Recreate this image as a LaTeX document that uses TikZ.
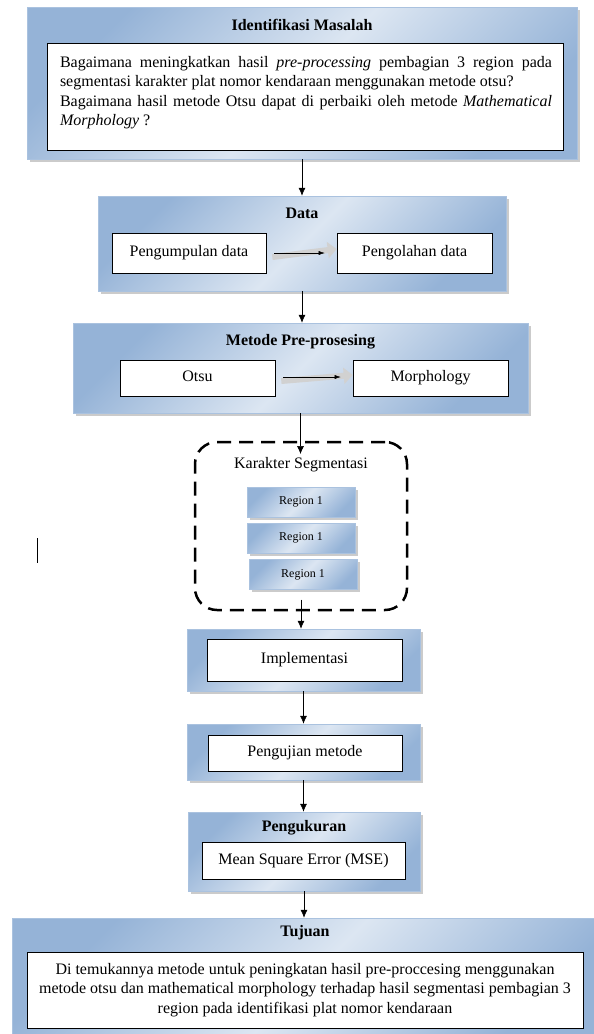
\documentclass[tikz,border=0pt]{standalone}
\usepackage{fontspec}
\setmainfont{Liberation Serif}
\usetikzlibrary{shapes,arrows,arrows.meta,shadows}

\definecolor{boxdark}{HTML}{95B3D7}
\definecolor{boxlight}{HTML}{DCE6F2}

\begin{document}
\begin{tikzpicture}[x=1pt, y=-1pt, semithick,
    font=\fontsize{16}{19.5}\selectfont]
  \tikzstyle{panel} = [rectangle, draw=boxdark!80, thin,
    left color=boxdark, right color=boxdark, middle color=boxlight, shading angle=45,
    drop shadow={shadow xshift=2.5pt, shadow yshift=-2.5pt, opacity=0.45, fill=black!45},
    inner sep=0pt]
  \tikzstyle{block} = [rectangle, draw, fill=white, inner sep=0pt, text centered]
  \tikzstyle{oneline} = [block, text height=11pt, text depth=4pt]
  \tikzstyle{title} = [font=\fontsize{16}{19.5}\selectfont\bfseries]
  \tikzstyle{regionbox} = [panel, minimum width=108pt, minimum height=30pt,
    text height=8pt, text depth=3pt, font=\fontsize{12}{14}\selectfont]
  \tikzstyle{line} = [draw, -{Latex[length=8pt, width=7pt]}]
  \tikzstyle{hollow} = [draw=black!18, line width=6pt, -{Triangle[length=9pt, width=16pt]}]

  \useasboundingbox (0,0) rectangle (594,1034);

  % Place nodes
  \node [panel, minimum width=550pt, minimum height=152pt] (ident) at (302,83) {};
  \node [title] (identtitle) at (302,25) {Identifikasi Masalah};
  \node [block, minimum width=516pt, minimum height=107pt] (identtext) at (305,96.5) {};
  \node [text width=492pt, align=justify, anchor=north, inner sep=0pt] (question) at (306,56)
    {Bagaimana meningkatkan hasil \emph{pre-processing} pembagian 3 region pada\linebreak
     segmentasi karakter plat nomor kendaraan menggunakan metode otsu?\newline
     Bagaimana hasil metode Otsu dapat di perbaiki oleh metode \emph{Mathematical}\linebreak
     \emph{Morphology} ?};

  \node [panel, minimum width=408pt, minimum height=95pt] (data) at (302,243.5) {};
  \node [title] (datatitle) at (302,213) {Data};
  \node [oneline, minimum width=154pt, minimum height=40pt] (kumpul) at (189,253) {Pengumpulan data};
  \node [oneline, minimum width=155pt, minimum height=40pt] (olah) at (414.5,253) {Pengolahan data};

  \node [panel, minimum width=455pt, minimum height=90pt] (metode) at (300.5,368) {};
  \node [title] (metodetitle) at (300.5,342) {Metode Pre-prosesing};
  \node [oneline, minimum width=155pt, minimum height=36pt] (otsu) at (197.5,378) {Otsu};
  \node [oneline, minimum width=155pt, minimum height=36pt] (morph) at (430.5,378) {Morphology};

  \node [rectangle, draw, line width=2.5pt, dash pattern=on 14pt off 8pt, rounded corners=22pt,
    minimum width=212pt, minimum height=168pt] (segmen) at (301,526) {};
  \node (segtitle) at (301,465) {Karakter Segmentasi};
  \node [regionbox] (rega) at (301,502) {Region 1};
  \node [regionbox] (regb) at (301,538) {Region 1};
  \node [regionbox] (regc) at (303,574.5) {Region 1};

  \node [panel, minimum width=233pt, minimum height=62pt] (impl) at (303.5,660) {};
  \node [oneline, minimum width=195pt, minimum height=42pt] (impltext) at (304.5,660) {Implementasi};

  \node [panel, minimum width=233pt, minimum height=56pt] (uji) at (303.5,752) {};
  \node [oneline, minimum width=194pt, minimum height=36pt] (ujitext) at (305,753) {Pengujian metode};

  \node [panel, minimum width=232pt, minimum height=79pt] (ukur) at (304,851.5) {};
  \node [title] (ukurtitle) at (304,828) {Pengukuran};
  \node [oneline, minimum width=203pt, minimum height=37pt] (mse) at (303.5,860.5) {Mean Square Error (MSE)};

  \node [panel, minimum width=590pt, minimum height=124pt] (tujuan) at (307,980) {};
  \node [title] (tujuantitle) at (305,933) {Tujuan};
  \node [block, minimum width=556pt, minimum height=76pt, align=center] (tujuantext) at (305,990)
    {Di temukannya metode untuk peningkatan hasil pre-proccesing menggunakan\\
     metode otsu dan mathematical morphology terhadap hasil segmentasi pembagian 3\\
     region pada identifikasi plat nomor kendaraan};

  % Draw edges
  \path [line] (ident.south) -- (ident.south |- data.north);
  \path [line] (data.south) -- (data.south |- metode.north);
  \path [line] (metode.south) -- (metode.south |- segtitle.north);
  \path [line] ([yshift=-10pt]regc.south -| segmen.south) -- (segmen.south |- impl.north);
  \path [line] (impl.south) -- (impl.south |- uji.north);
  \path [line] (uji.south) -- (uji.south |- ukur.north);
  \path [line] (ukur.south) -- (ukur.south |- tujuan.north);

  \draw [hollow] ([shift={(6,4)}]kumpul.east) -- ([yshift=4pt]olah.west);
  \draw [-{Latex[length=6pt, width=4pt]}, thin] ([shift={(8,0)}]kumpul.east) -- ([shift={(-12,0)}]olah.west);
  \draw [hollow] ([shift={(6,3)}]otsu.east) -- ([yshift=3pt]morph.west);
  \draw [-{Latex[length=6pt, width=4pt]}, thin] ([shift={(8,-1)}]otsu.east) -- ([shift={(-12,-1)}]morph.west);

  \draw [thin] (37,538) -- (37,563);

\end{tikzpicture}
\end{document}
